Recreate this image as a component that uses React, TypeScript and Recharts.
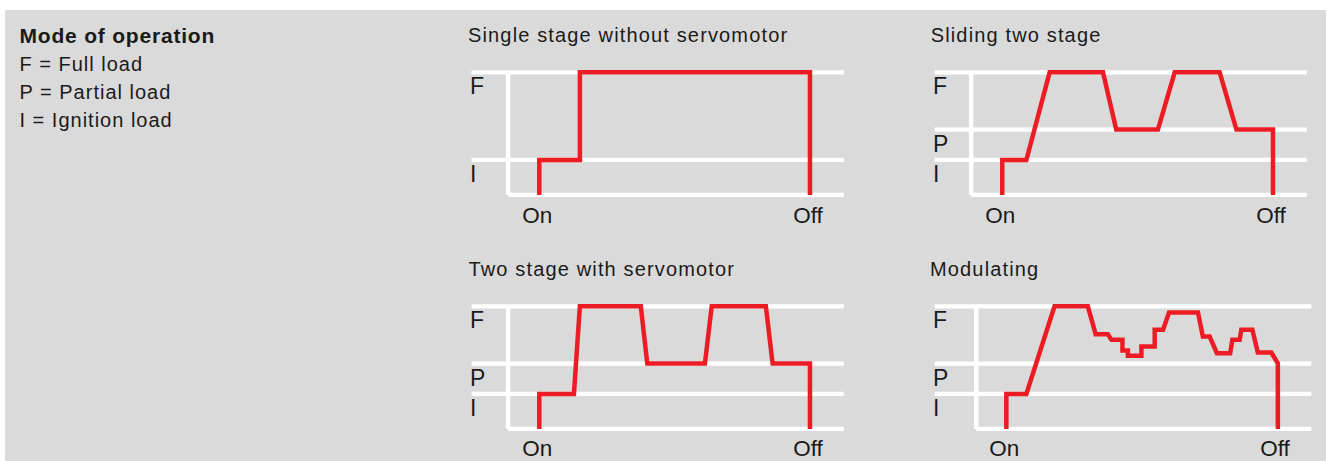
import React from 'react';
import { LineChart, Line, XAxis, YAxis, ReferenceLine } from 'recharts';

const FONT = '"Liberation Sans", Arial, Helvetica, sans-serif';
const RED = '#ed1c24';
const BG = '#dadada';
const GRID = '#ffffff';
const INK = '#1a1a1a';

// Load levels (share of full load)
const LEVEL_F = 100;
const LEVEL_P = 53.3;
const LEVEL_I = 28.5;

const xTicks = [0, 100];
const xTickLabels = ['On', 'Off'];

const legendTitle = 'Mode of operation';
const legendLines = ['F = Full load', 'P = Partial load', 'I = Ignition load'];

// Single stage without servomotor
const singleLevels = [LEVEL_I, LEVEL_F];
const singleLevelLabels = ['I', 'F'];
const singleT = [0, 0, 15, 15, 100, 100];
const singleV = [0, LEVEL_I, LEVEL_I, LEVEL_F, LEVEL_F, 0];

// Sliding two stage
const slidingLevels = [LEVEL_I, LEVEL_P, LEVEL_F];
const slidingLevelLabels = ['I', 'P', 'F'];
const slidingT = [0, 0, 8.9, 17.5, 37.2, 42.1, 57.5, 63.7, 80.3, 86.5, 100, 100];
const slidingV = [0, LEVEL_I, LEVEL_I, LEVEL_F, LEVEL_F, LEVEL_P, LEVEL_P, LEVEL_F, LEVEL_F, LEVEL_P, LEVEL_P, 0];

// Two stage with servomotor
const twoStageLevels = [LEVEL_I, LEVEL_P, LEVEL_F];
const twoStageLevelLabels = ['I', 'P', 'F'];
const twoStageT = [0, 0, 12.8, 15, 37.5, 39.9, 61.2, 63.7, 83.7, 86.2, 100, 100];
const twoStageV = [0, LEVEL_I, LEVEL_I, LEVEL_F, LEVEL_F, LEVEL_P, LEVEL_P, LEVEL_F, LEVEL_F, LEVEL_P, LEVEL_P, 0];

// Modulating
const modLevels = [LEVEL_I, LEVEL_P, LEVEL_F];
const modLevelLabels = ['I', 'P', 'F'];
const modT = [0, 0, 7.4, 17.8, 30.1, 33.0, 37.5, 38.8, 42.9, 42.9, 44.9, 44.9, 49.9, 49.9, 54.8, 54.8, 57.9, 60.1, 70.8, 72.6, 75.1, 77.8, 82.7, 83.5, 86.2, 86.8, 90.9, 92.9, 97.9, 100.3, 100.3];
const modV = [0, LEVEL_I, LEVEL_I, LEVEL_F, LEVEL_F, 77.3, 77.3, 72.7, 72.7, 63.9, 63.9, 59.6, 59.6, 67.3, 67.3, 80.8, 80.8, 94.9, 94.9, 75.3, 75.3, 61.8, 61.8, 72.7, 72.7, 80.8, 80.8, 62.3, 62.3, 53.5, 0];

type PanelCfg = {
  title: string;
  t: number[];
  v: number[];
  levels: number[];
  levelLabels: string[];
  left: number;
  top: number;
  marginLeft: number;
  xDomain: [number, number];
  axisX: number;
  titleLeft: number;
  labelDy: number;
};

const panels: PanelCfg[] = [
  { title: 'Single stage without servomotor', t: singleT, v: singleV, levels: singleLevels, levelLabels: singleLevelLabels,
    left: 440, top: 40, marginLeft: 11.6, xDomain: [-25, 112.5], axisX: -11.5, titleLeft: 468, labelDy: 28 },
  { title: 'Sliding two stage', t: slidingT, v: slidingV, levels: slidingLevels, levelLabels: slidingLevelLabels,
    left: 903.4, top: 40, marginLeft: 11.6, xDomain: [-25, 112.5], axisX: -11.5, titleLeft: 930.7, labelDy: 28 },
  { title: 'Two stage with servomotor', t: twoStageT, v: twoStageV, levels: twoStageLevels, levelLabels: twoStageLevelLabels,
    left: 440, top: 274.4, marginLeft: 11.6, xDomain: [-25, 112.5], axisX: -11.5, titleLeft: 468.5, labelDy: 27 },
  { title: 'Modulating', t: modT, v: modV, levels: modLevels, levelLabels: modLevelLabels,
    left: 903.4, top: 274.4, marginLeft: 11.6, xDomain: [-26.5, 112.7], axisX: -11.1, titleLeft: 930, labelDy: 27 },
];

const CH_W = 410;
const PLOT_TOP = 32.3;
const PLOT_H = 122.6;
const X_AXIS_H = 30;
const Y_AXIS_W = 20;
const PX_PER_UNIT = 2.707;

function Panel({ cfg }: { cfg: PanelCfg }) {
  const data = cfg.t.map((t, i) => ({ t, v: cfg.v[i] }));
  const plotW = (cfg.xDomain[1] - cfg.xDomain[0]) * PX_PER_UNIT;
  const marginRight = CH_W - cfg.marginLeft - Y_AXIS_W - plotW;
  const chH = Math.min(200, 461 - cfg.top);
  const marginBottom = Math.max(0, chH - PLOT_TOP - PLOT_H - X_AXIS_H);
  const xAxisH = chH - PLOT_TOP - PLOT_H - marginBottom;

  const xTick = (props: any) => {
    const { x, y, payload } = props;
    const idx = xTicks.indexOf(payload.value);
    return (
      <text x={x - 2} y={y + cfg.labelDy} textAnchor="middle" fontFamily={FONT} fontSize={22.5} fill={INK}>
        {idx >= 0 ? xTickLabels[idx] : ''}
      </text>
    );
  };
  const yTick = (props: any) => {
    const { x, y, payload } = props;
    const idx = cfg.levels.indexOf(payload.value);
    return (
      <text x={x - 1.6} y={y + 22} textAnchor="start" fontFamily={FONT} fontSize={23} fill={INK}>
        {idx >= 0 ? cfg.levelLabels[idx] : ''}
      </text>
    );
  };

  return (
    <>
      <div
        style={{
          position: 'absolute',
          left: cfg.titleLeft,
          top: cfg.top - 19.4,
          fontFamily: FONT,
          fontSize: 20,
          lineHeight: '28px',
          letterSpacing: 1.15,
          color: INK,
          whiteSpace: 'nowrap',
        }}
      >
        {cfg.title}
      </div>
      <div style={{ position: 'absolute', left: cfg.left, top: cfg.top }}>
        <LineChart
          width={CH_W}
          height={chH}
          data={data}
          margin={{ top: PLOT_TOP, right: marginRight, bottom: marginBottom, left: cfg.marginLeft }}
        >
          <XAxis
            type="number"
            dataKey="t"
            domain={cfg.xDomain}
            ticks={xTicks}
            interval={0}
            height={xAxisH}
            axisLine={false}
            tickLine={false}
            tickSize={0}
            tickMargin={0}
            tick={xTick}
          />
          <YAxis
            type="number"
            domain={[0, 100]}
            ticks={cfg.levels}
            interval={0}
            width={Y_AXIS_W}
            axisLine={false}
            tickLine={false}
            tickSize={0}
            tickMargin={0}
            tick={yTick}
          />
          {cfg.levels.map((l) => (
            <ReferenceLine key={l} y={l} stroke={GRID} strokeWidth={4.2} zIndex={-50} />
          ))}
          <ReferenceLine
            segment={[{ x: cfg.axisX, y: 0 }, { x: cfg.xDomain[1], y: 0 }]}
            stroke={GRID}
            strokeWidth={4.2}
            zIndex={-50}
          />
          <ReferenceLine x={cfg.axisX} stroke={GRID} strokeWidth={4.5} zIndex={-50} />
          <Line
            type="linear"
            dataKey="v"
            stroke={RED}
            strokeWidth={4.5}
            dot={false}
            activeDot={false}
            isAnimationActive={false}
            zIndex={900}
          />
        </LineChart>
      </div>
    </>
  );
}

export default function App() {
  return (
    <div style={{ position: 'absolute', left: 0, top: 0, width: 1330, height: 461, overflow: 'hidden', background: '#ffffff' }}>
      <div style={{ position: 'absolute', left: 5, top: 10, width: 1321, height: 451, background: BG }} />
      <div style={{ position: 'absolute', left: 19.5, top: 22, fontFamily: FONT, color: INK }}>
        <div style={{ fontSize: 21, fontWeight: 700, lineHeight: '28px', letterSpacing: 0.8, whiteSpace: 'nowrap' }}>
          {legendTitle}
        </div>
        {legendLines.map((s) => (
          <div key={s} style={{ fontSize: 20, lineHeight: '28px', letterSpacing: 1.0, whiteSpace: 'nowrap' }}>
            {s}
          </div>
        ))}
      </div>
      {panels.map((p) => (
        <Panel key={p.title} cfg={p} />
      ))}
    </div>
  );
}
